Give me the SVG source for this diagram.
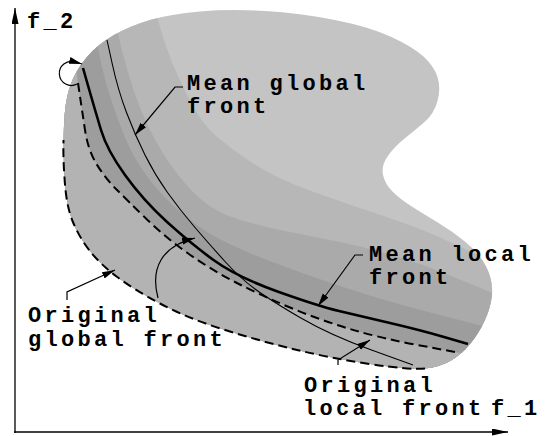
<svg xmlns="http://www.w3.org/2000/svg" width="554" height="436" viewBox="0 0 554 436">
<style>
.lbl{font-family:"Liberation Mono","DejaVu Sans Mono",monospace;font-weight:bold;font-size:22px;letter-spacing:3.3px;fill:#000}
.lead{fill:none;stroke:#000;stroke-width:1.2;marker-end:url(#ah)}
.dash{fill:none;stroke:#000;stroke-width:2;stroke-dasharray:9 5}
</style>
<defs>
<marker id="ah" markerUnits="userSpaceOnUse" markerWidth="14" markerHeight="8" refX="13" refY="3.5" orient="auto"><path d="M0,0 L13,3.5 L0,7 Z" fill="#000"/></marker>
<marker id="ax" markerUnits="userSpaceOnUse" markerWidth="17" markerHeight="8" refX="16" refY="3.5" orient="auto"><path d="M0,0 L16,3.5 L0,7 Z" fill="#000"/></marker>
<clipPath id="blobclip"><path id="blobp" d="M64.5,177.5 Q63,150 64,125 Q65,100 70.5,85 Q76,70 87,57 Q98,44 114,35 Q130,26 150,20 Q170,14 200,11.5 Q230,9 265,11 Q300,13 335,20 Q370,27 391.5,37 Q413,47 423.5,56.5 Q434,66 437.5,77 Q441,88 437.5,101 Q434,114 424,122.5 Q414,131 404,139 Q394,147 387.5,156.5 Q381,166 383,175 Q385,184 392.5,191.5 Q400,199 411,206 Q422,213 437,222 Q452,231 465.5,242 Q479,253 486,266.5 Q493,280 492,293.5 Q491,307 485,320 Q479,333 470.5,343.5 Q462,354 451,360.5 Q440,367 425,368.5 Q410,370 370,364 Q330,358 295,349.5 Q260,341 223.5,329.5 Q187,318 160,303.5 Q133,289 116.5,276.5 Q100,264 89.5,250.5 Q79,237 72.5,221 Q66,205 64.5,177.5 Z"/></clipPath>
</defs>
<rect width="554" height="436" fill="#fff"/>
<g id="region">
<use href="#blobp" fill="#c4c4c4"/>
<g clip-path="url(#blobclip)">
<path fill="#b7b7b7" d="M148,-10 L152.5,3.5 Q157,17 163.5,38.5 Q170,60 185,91 Q200,122 215,135 Q230,148 252.5,163 Q275,178 312.5,191.5 Q350,205 385,216.5 Q420,228 450,242 Q480,256 525,278 L570,300 L570,450 L-10,450 L-10,-10 Z"/>
<path fill="#aaaaaa" d="M110,-10 L114,12.5 Q118,35 122.5,52.5 Q127,70 133.5,90 Q140,110 150,130 Q160,150 172.5,167.5 Q185,185 200,198.5 Q215,212 237.5,219 Q260,226 285,231 Q310,236 335,241 Q360,246 390,254.5 Q420,263 455,277.5 Q490,292 530,308.5 L570,325 L570,450 L-10,450 L-10,-10 Z"/>
<path fill="#9d9d9d" d="M90,-10 L93.5,17.5 Q97,45 101.5,65 Q106,85 112,102.5 Q118,120 124,135 Q130,150 140,166 Q150,182 165,197.5 Q180,213 197.5,225.5 Q215,238 242.5,250 Q270,262 315,277.5 Q360,293 390,301.5 Q420,310 455,319 Q490,328 530,338 L570,348 L570,450 L-10,450 L-10,-10 Z"/>
<path fill="#b3b3b3" d="M66,-10 L72,40 L78,83 L80,96.5 Q82,110 85,130 Q88,150 96.5,164 Q105,178 116,189 Q127,200 146,218.5 Q165,237 187.5,253 Q210,269 235,282 Q260,295 290,307.5 Q320,320 350,329 Q380,338 417.5,345 L455,352 L500,360 L570,370 L570,450 L-10,450 L-10,-10 Z"/>
</g>
</g>
<g id="axes">
<path d="M15,433 L15,8" fill="none" stroke="#000" stroke-width="1.3" marker-end="url(#ax)"/>
<path d="M14,432 L508,432" fill="none" stroke="#000" stroke-width="1.3" marker-end="url(#ax)"/>
<text class="lbl" x="27" y="28">f_2</text>
<text class="lbl" x="491" y="415">f_1</text>
</g>
<g id="connectors">
<path id="original-global-front" class="dash" d="M425,368.5 Q410,370 370,364 Q330,358 295,349.5 Q260,341 223.5,329.5 Q187,318 160,303.5 Q133,289 116.5,276.5 Q100,264 89.5,250.5 Q79,237 72.5,221 Q66,205 64.5,177.5 Q63,158 63.5,140"/>
<path id="original-local-front" class="dash" d="M78,83 L80,96.5 Q82,110 85,130 Q88,150 96.5,164 Q105,178 116,189 Q127,200 146,218.5 Q165,237 187.5,253 Q210,269 235,282 Q260,295 290,307.5 Q320,320 350,329 Q380,338 417.5,345 L455,352"/>
<path id="mean-local-front" fill="none" stroke="#000" stroke-width="2.6" d="M83,68 L89,89 Q95,110 101,130 Q107,150 125,175 Q143,200 166.5,221.5 Q190,243 213.5,260 Q237,277 277.5,291.5 Q318,306 339,311 Q360,316 390,323 Q420,330 444,337 L468,344"/>
<path id="mean-global-front" fill="none" stroke="#000" stroke-width="1.1" d="M107,40 L112.5,65 Q118,90 126.5,112.5 Q135,135 145,155 Q155,175 167.5,192.5 Q180,210 195,227.5 Q210,245 225,261.5 Q240,278 255,289 Q270,300 300,317.5 Q330,335 371.5,350 L413,365"/>
<path class="lead" d="M77,84 A12,12 0 1 1 75,62 L82,64"/>
<path class="lead" d="M158,298 C150,268 162,246 195,238"/>
<path class="lead" d="M183,87 L175,87 L135,135"/>
<path class="lead" d="M363,255 L355,255 L318,306"/>
<path class="lead" d="M67,300 L67,292 L115,270"/>
<path class="lead" d="M338,365 L338,360 L370,340"/>
</g>
<g id="label-mean-global">
<text class="lbl" x="187" y="90">Mean global</text>
<text class="lbl" x="187" y="113">front</text>
</g>
<g id="label-mean-local">
<text class="lbl" x="369" y="261">Mean local</text>
<text class="lbl" x="369" y="284">front</text>
</g>
<g id="label-original-global">
<text class="lbl" x="28" y="322">Original</text>
<text class="lbl" x="28" y="346">global front</text>
</g>
<g id="label-original-local">
<text class="lbl" x="304" y="392">Original</text>
<text class="lbl" x="303" y="415">local front</text>
</g>
</svg>
